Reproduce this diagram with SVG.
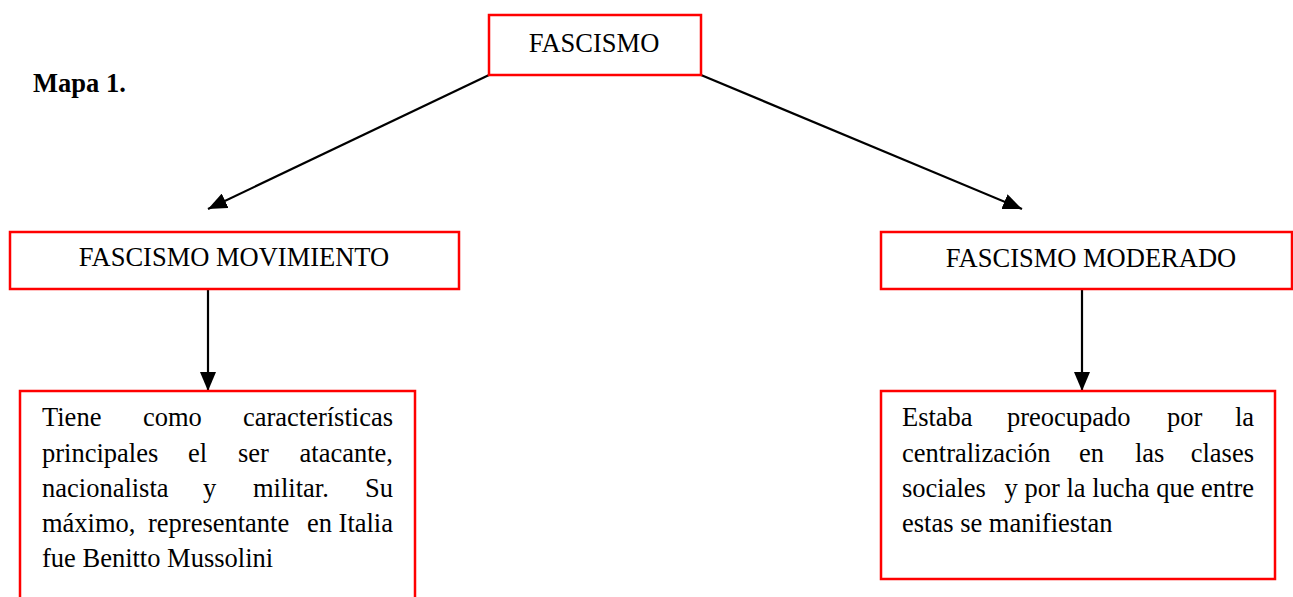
<svg xmlns="http://www.w3.org/2000/svg" width="1293" height="597" viewBox="0 0 1293 597">
<style>
.box{fill:#fff;stroke:#ff0000;stroke-width:2.5}
.t{font-family:"Liberation Serif","Times New Roman",serif;font-size:26.5px;fill:#000}
.c{text-anchor:middle}
.e{text-anchor:end}
.edge{stroke:#000;stroke-width:2.2;fill:none;marker-end:url(#ah)}
</style>
<defs>
<marker id="ah" markerUnits="userSpaceOnUse" markerWidth="20" markerHeight="16" refX="19" refY="8" orient="auto">
<path d="M0,0 L19,8 L0,16 Z" fill="#000"/>
</marker>
</defs>
<rect width="1293" height="597" fill="#fff"/>
<text class="t" x="33" y="92" font-weight="bold">Mapa 1.</text>
<g id="connectors">
<line class="edge" x1="489" y1="75" x2="208" y2="209"/>
<line class="edge" x1="701" y1="75" x2="1022" y2="209"/>
<line class="edge" x1="208" y1="289" x2="208" y2="391"/>
<line class="edge" x1="1082" y1="289" x2="1082" y2="391"/>
</g>
<g id="n_fascismo">
<rect class="box" x="489" y="15" width="212" height="60"/>
<text class="t c" x="594" y="52">FASCISMO</text>
</g>
<g id="n_movimiento">
<rect class="box" x="10" y="232" width="449" height="57"/>
<text class="t c" x="234" y="266">FASCISMO MOVIMIENTO</text>
</g>
<g id="n_moderado">
<rect class="box" x="881" y="232" width="411" height="57"/>
<text class="t c" x="1091" y="267">FASCISMO MODERADO</text>
</g>
<g id="n_mov_desc">
<rect class="box" x="20" y="391" width="395" height="220"/>
<text class="t" x="42" y="426">Tiene</text>
<text class="t" x="143" y="426">como</text>
<text class="t e" x="393" y="426">características</text>
<text class="t" x="42" y="462">principales</text>
<text class="t" x="188" y="462">el</text>
<text class="t" x="238" y="462">ser</text>
<text class="t e" x="393" y="462">atacante,</text>
<text class="t" x="42" y="497">nacionalista</text>
<text class="t" x="203" y="497">y</text>
<text class="t" x="253" y="497">militar.</text>
<text class="t e" x="393" y="497">Su</text>
<text class="t" x="42" y="532">máximo,</text>
<text class="t" x="148" y="532">representante</text>
<text class="t" x="307" y="532">en</text>
<text class="t e" x="393" y="532">Italia</text>
<text class="t" x="42" y="567">fue Benitto Mussolini</text>
</g>
<g id="n_mod_desc">
<rect class="box" x="881" y="391" width="394" height="188"/>
<text class="t" x="902" y="426">Estaba</text>
<text class="t" x="1007" y="426">preocupado</text>
<text class="t" x="1167" y="426">por</text>
<text class="t e" x="1254" y="426">la</text>
<text class="t" x="902" y="462">centralización</text>
<text class="t" x="1079" y="462">en</text>
<text class="t" x="1135" y="462">las</text>
<text class="t e" x="1254" y="462">clases</text>
<text class="t" x="902" y="497">sociales</text>
<text class="t e" x="1254" y="497">y por la lucha que entre</text>
<text class="t" x="902" y="532">estas se manifiestan</text>
</g>
</svg>
